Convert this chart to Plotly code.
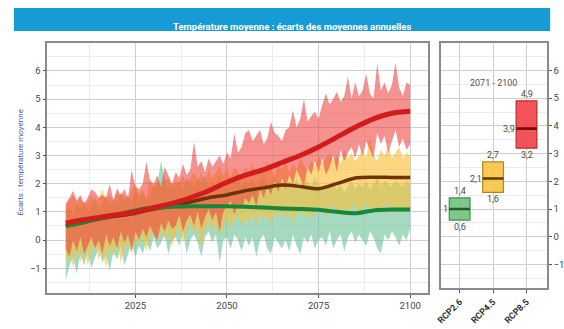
import plotly.graph_objects as go

# ---- annual envelopes (min / max across models), 2006-2100 ----
years = list(range(2006, 2101))

rcp85_max = [
    1.3, 1.5, 1.75, 1.4, 1.6, 1.3, 1.5, 1.8, 1.7, 1.5,
    1.6, 1.5, 2.0, 1.4, 1.84, 1.6, 1.8, 1.5, 2.48, 1.9,
    1.8, 2.0, 2.78, 2.1, 2.0, 2.3, 1.9, 2.6, 2.3, 2.0,
    2.4, 2.2, 2.7, 2.3, 2.5, 3.49, 2.6, 2.8, 2.4, 2.9,
    2.6, 2.8, 3.0, 2.7, 3.1, 2.9, 3.78, 3.1, 3.3, 3.8,
    3.9, 3.5, 3.7, 3.9, 3.4, 3.6, 4.2, 3.8, 3.7, 3.5,
    3.9, 4.0, 4.6, 4.0, 4.3, 5.0, 4.2, 4.4, 4.55, 4.3,
    4.8, 5.2, 4.8, 5.0, 5.26, 4.9, 5.1, 5.8, 5.0, 5.6,
    5.1, 5.3, 5.9, 5.2, 5.0, 6.27, 5.3, 5.6, 5.2, 5.5,
    6.3, 5.4, 5.1, 5.6, 5.5,
]
rcp85_min = [
    -0.3, -0.6, 0.0, -0.4, 0.1, -0.5, -0.2, 0.1, -0.3, 0.0,
    -0.5, 0.2, -0.2, 0.1, -0.3, 0.3, -0.1, 0.2, -0.4, 0.3,
    0.0, 0.4, 0.1, 0.5, 0.2, 0.0, 0.6, 0.3, 0.7, 0.4,
    0.5, 0.9, 0.3, 0.7, 0.9, 0.5, 1.0, 0.4, 0.8, 1.1,
    0.7, 1.0, 0.3, 1.0, 1.2, 1.4, 0.9, 1.3, 1.1, 1.5,
    1.3, 1.6, 1.2, 1.8, 1.5, 1.9, 1.6, 2.1, 1.7, 2.2,
    1.8, 2.3, 2.0, 2.5, 2.2, 1.9, 2.6, 2.3, 2.8, 2.4,
    2.9, 2.3, 2.6, 3.0, 2.4, 3.2, 2.8, 3.1, 3.3, 2.9,
    3.4, 3.0, 3.5, 3.2, 2.9, 3.8, 3.4, 3.7, 3.1, 3.5,
    3.9, 3.3, 3.6, 3.2, 3.4,
]
rcp45_max = [
    1.2, 1.4, 1.6, 1.3, 1.5, 1.2, 1.4, 1.6, 1.3, 1.5,
    1.8, 1.4, 1.6, 1.3, 1.7, 1.5, 1.6, 1.4, 1.8, 2.0,
    1.6, 1.8, 1.5, 2.2, 1.9, 2.1, 1.8, 2.1, 2.2, 1.9,
    2.1, 2.0, 2.3, 2.0, 2.2, 2.4, 2.1, 2.4, 2.0, 2.5,
    2.2, 2.4, 2.6, 2.3, 2.5, 2.2, 2.6, 2.4, 2.2, 2.6,
    2.4, 2.7, 2.3, 2.6, 2.4, 2.8, 2.5, 2.3, 2.7, 2.5,
    2.8, 2.4, 2.7, 2.5, 2.9, 2.66, 2.5, 2.8, 2.6, 3.0,
    2.7, 2.9, 3.1, 2.8, 3.0, 2.7, 3.2, 2.9, 3.1, 2.8,
    3.0, 3.2, 2.9, 3.66, 3.0, 2.8, 3.2, 3.0, 3.3, 2.9,
    3.1, 3.3, 2.9, 3.1, 3.0,
]
rcp45_min = [
    -0.8, -0.4, -1.0, -0.3, -0.8, -0.2, -0.9, -0.4, -0.1, -0.7,
    -0.3, -1.0, -0.2, -0.6, 0.0, -0.8, -0.3, -0.1, -0.5, 0.1,
    -0.2, 0.2, -0.4, 0.1, 0.3, -0.1, 0.4, 0.0, 0.3, -0.2,
    0.2, 0.5, -0.1, 0.3, 0.6, 0.2, 0.5, -0.3, 0.4, 0.7,
    0.3, 0.6, 0.1, 0.5, 0.8, 0.4, 0.7, 0.9, 0.5, 0.8,
    0.6, 0.9, 0.5, 1.0, 0.7, 0.9, 0.6, 1.0, 0.8, 1.1,
    0.7, 1.0, 0.6, 0.9, 1.1, 0.8, 1.0, 0.7, 1.1, 0.9,
    1.2, 0.8, 1.0, 1.3, 0.9, 1.1, 0.8, 1.2, 1.0, 1.3,
    0.9, 1.1, 1.3, 1.0, 1.2, 0.9, 1.1, 1.3, 1.0, 1.2,
    1.1, 0.9, 1.2, 1.0, 1.1,
]
rcp26_max = [
    1.0, 1.2, 0.9, 1.3, 1.1, 1.4, 1.0, 1.2, 1.5, 1.1,
    1.3, 1.6, 1.2, 1.5, 1.3, 1.7, 1.4, 1.6, 1.3, 1.8,
    1.5, 1.7, 1.4, 1.6, 1.9, 2.0, 2.8, 2.2, 1.8, 2.0,
    1.9, 2.1, 1.8, 2.2, 2.0, 1.9, 2.2, 2.0, 2.3, 1.9,
    2.1, 2.0, 2.3, 1.9, 2.2, 2.0, 2.1, 2.4, 1.9, 2.1,
    2.0, 2.2, 1.9, 2.1, 2.3, 2.0, 1.9, 2.2, 2.0, 2.1,
    1.9, 2.1, 2.0, 2.2, 1.8, 2.0, 2.1, 1.9, 2.2, 2.0,
    1.8, 2.0, 1.9, 2.1, 1.8, 2.0, 1.7, 1.9, 2.1, 1.8,
    2.0, 1.9, 2.1, 1.8, 2.0, 2.2, 1.9, 2.1, 2.0, 1.9,
    2.1, 2.0, 1.9, 2.1, 2.0,
]
rcp26_min = [
    -1.45, -0.9, -0.6, -1.2, -0.5, -0.9, -0.4, -1.0, -0.6, -0.3,
    -0.8, -0.5, -1.1, -0.4, -0.7, -0.2, -0.9, -0.5, -0.1, -0.6,
    -0.2, -0.5, 0.0, -0.4, 0.1, -0.3, -0.1, 0.2, -0.5, 0.0,
    0.1, -0.2, 0.3, -0.5, 0.0, 0.2, -0.1, -0.6, 0.1, 0.3,
    -0.1, 0.2, -0.8, 0.0, 0.1, -0.3, 0.2, 0.0, -0.4, 0.1,
    -0.2, 0.1, -0.6, 0.0, 0.2, -0.3, -0.5, 0.1, -0.1, -0.3,
    0.0, -0.4, 0.2, -0.2, -0.5, 0.1, -0.1, 0.2, -0.3, 0.0,
    0.1, -0.2, 0.3, -0.3, 0.0, 0.2, -0.4, 0.1, 0.3, -0.1,
    0.2, 0.0, -0.2, 0.3, 0.1, -0.3, -0.47, 0.2, 0.0, 0.3,
    0.1, -0.2, 0.2, 0.0, 0.4,
]

# ---- smoothed multi-model means ----
mean_years = [2006, 2010, 2015, 2020, 2025, 2030, 2035, 2040, 2045, 2050,
              2055, 2060, 2065, 2070, 2075, 2080, 2085, 2090, 2095, 2100]
rcp85_mean = [0.6, 0.7, 0.8, 0.9, 1.0, 1.15, 1.3, 1.5, 1.75, 2.05,
              2.3, 2.5, 2.75, 3.0, 3.3, 3.65, 4.0, 4.3, 4.5, 4.57]
rcp45_mean = [0.5, 0.6, 0.75, 0.85, 0.95, 1.1, 1.2, 1.35, 1.5, 1.6,
              1.75, 1.85, 1.95, 1.9, 1.82, 2.0, 2.2, 2.23, 2.22, 2.22]
rcp26_mean = [0.5, 0.6, 0.75, 0.9, 1.05, 1.15, 1.18, 1.2, 1.2, 1.2,
              1.18, 1.15, 1.12, 1.1, 1.07, 1.0, 0.95, 1.05, 1.08, 1.08]

# ---- 2071-2100 summary per scenario ----
scenarios = ["RCP2.6", "RCP4.5", "RCP8.5"]
box_low = [0.6, 1.6, 3.2]
box_median = [1.0, 2.1, 3.9]
box_high = [1.4, 2.7, 4.9]
box_low_txt = ["0,6", "1,6", "3,2"]
box_median_txt = ["1", "2,1", "3,9"]
box_high_txt = ["1,4", "2,7", "4,9"]

x_ticks = [2025, 2050, 2075, 2100]
y_ticks = [-1, 0, 1, 2, 3, 4, 5, 6]

W, H = 564, 329
FONT = "Roboto, Open Sans, sans-serif"
GRID = "#cfcfcf"
MINOR = "#ececec"
FRAME = "#8a8a8a"

band_style = {
    "RCP2.6": "rgba(110,195,155,0.62)",
    "RCP4.5": "rgba(250,192,60,0.64)",
    "RCP8.5": "rgba(238,66,62,0.58)",
}
line_style = {
    "RCP2.6": ("#17873a", 4),
    "RCP4.5": ("#6e3306", 3.5),
    "RCP8.5": ("#d21c1c", 5),
}
box_fill = ["rgba(104,190,120,0.85)", "rgba(247,194,62,0.88)", "rgba(240,60,66,0.88)"]
box_edge = ["#3f8f4e", "#b3851e", "#b52a2a"]
box_mid = ["#1d5e2a", "#5a3a06", "#7a0d0d"]


def px_x(p):
    return p / W


def px_y(p):
    return 1 - p / H


fig = go.Figure()

bands = [
    ("RCP2.6", rcp26_min, rcp26_max),
    ("RCP4.5", rcp45_min, rcp45_max),
    ("RCP8.5", rcp85_min, rcp85_max),
]
for name, lo, hi in bands:
    fig.add_trace(go.Scatter(x=years, y=lo, mode="lines", line=dict(width=0),
                             hoverinfo="skip", showlegend=False))
    fig.add_trace(go.Scatter(x=years, y=hi, mode="lines", line=dict(width=0),
                             fill="tonexty", fillcolor=band_style[name],
                             hoverinfo="skip", showlegend=False))

for name, vals in [("RCP4.5", rcp45_mean), ("RCP2.6", rcp26_mean), ("RCP8.5", rcp85_mean)]:
    col, w = line_style[name]
    fig.add_trace(go.Scatter(x=mean_years, y=vals, mode="lines",
                             line=dict(color=col, width=w, shape="spline", smoothing=0.8),
                             name=name, showlegend=False))

# summary boxes in the right-hand panel (numeric positions 0, 1, 2)
pos = list(range(len(scenarios)))
half = 0.31
fig.add_trace(go.Bar(
    x=pos, base=box_low,
    y=[h - l for h, l in zip(box_high, box_low)],
    width=2 * half, marker=dict(color=box_fill, line=dict(color=box_edge, width=1.2)),
    xaxis="x2", yaxis="y2", showlegend=False, hoverinfo="skip",
))
for i in pos:
    fig.add_trace(go.Scatter(
        x=[i - half, i + half], y=[box_median[i], box_median[i]], mode="lines",
        line=dict(color=box_mid[i], width=2.6), xaxis="x2", yaxis="y2",
        showlegend=False, hoverinfo="skip",
    ))

annotations = []
for i in pos:
    annotations.append(dict(xref="x2", yref="y2", x=i, y=box_high[i], text=box_high_txt[i],
                            showarrow=False, yanchor="bottom", yshift=0,
                            font=dict(size=9, color="#4a4a4a", family=FONT)))
    annotations.append(dict(xref="x2", yref="y2", x=i, y=box_low[i], text=box_low_txt[i],
                            showarrow=False, yanchor="top", yshift=0,
                            font=dict(size=9, color="#4a4a4a", family=FONT)))
    annotations.append(dict(xref="x2", yref="y2", x=i - half, y=box_median[i], text=box_median_txt[i],
                            showarrow=False, xanchor="right", xshift=1,
                            font=dict(size=9, color="#4a4a4a", family=FONT)))

annotations.append(dict(xref="x2", yref="paper", x=1, y=px_y(76), text="2071 - 2100",
                        showarrow=False, font=dict(size=9, color="#555", family=FONT)))
annotations.append(dict(xref="paper", yref="paper", x=px_x(292), y=px_y(19.5),
                        text="<b>Température moyenne : écarts des moyennes annuelles</b>",
                        showarrow=False, font=dict(size=9.5, color="white", family=FONT)))
annotations.append(dict(xref="paper", yref="paper", x=px_x(20), y=px_y(162),
                        xanchor="center", yanchor="middle", xshift=-5,
                        text="Écarts : température moyenne", textangle=-90,
                        showarrow=False, font=dict(size=8, color="#3f5f9f", family=FONT)))

shapes = [dict(type="rect", xref="paper", yref="paper",
               x0=px_x(9), x1=px_x(554), y0=px_y(31), y1=px_y(8),
               fillcolor="#179bd6", line=dict(width=0), layer="below")]

axis_common = dict(
    showline=True, linecolor=FRAME, linewidth=1.5, mirror=True,
    gridcolor=GRID, gridwidth=1, zeroline=False,
    ticks="outside", ticklen=3, tickcolor="#555",
    tickfont=dict(size=9.5, color="#444", family=FONT),
)

fig.update_layout(
    width=W, height=H,
    margin=dict(l=0, r=0, t=0, b=0),
    paper_bgcolor="white", plot_bgcolor="white",
    xaxis=dict(domain=[px_x(43), px_x(430)], range=[2000.96, 2104.9],
               tickvals=x_ticks, anchor="y",
               minor=dict(dtick=12.5, tick0=2000, showgrid=True, gridcolor=MINOR, ticks=""),
               **axis_common),
    yaxis=dict(domain=[px_y(293), px_y(43)], range=[-1.88, 6.99],
               tickvals=y_ticks, anchor="x",
               minor=dict(dtick=0.5, showgrid=True, gridcolor=MINOR, ticks=""),
               **axis_common),
    xaxis2=dict(domain=[px_x(442.7), px_x(550.7)], range=[-0.568, 2.61],
                tickvals=pos, ticktext=["<b>" + s + "</b>" for s in scenarios],
                tickangle=-45, anchor="y2",
                **{**axis_common, "tickfont": dict(size=9, color="#333", family=FONT)}),
    yaxis2=dict(domain=[px_y(288.3), px_y(42.7)], range=[-1.86, 7.0],
                tickvals=y_ticks, side="right", anchor="x2",
                minor=dict(dtick=0.5, showgrid=True, gridcolor=MINOR, ticks=""),
                **axis_common),
    annotations=annotations,
    shapes=shapes,
)

fig.write_html("out.html")
